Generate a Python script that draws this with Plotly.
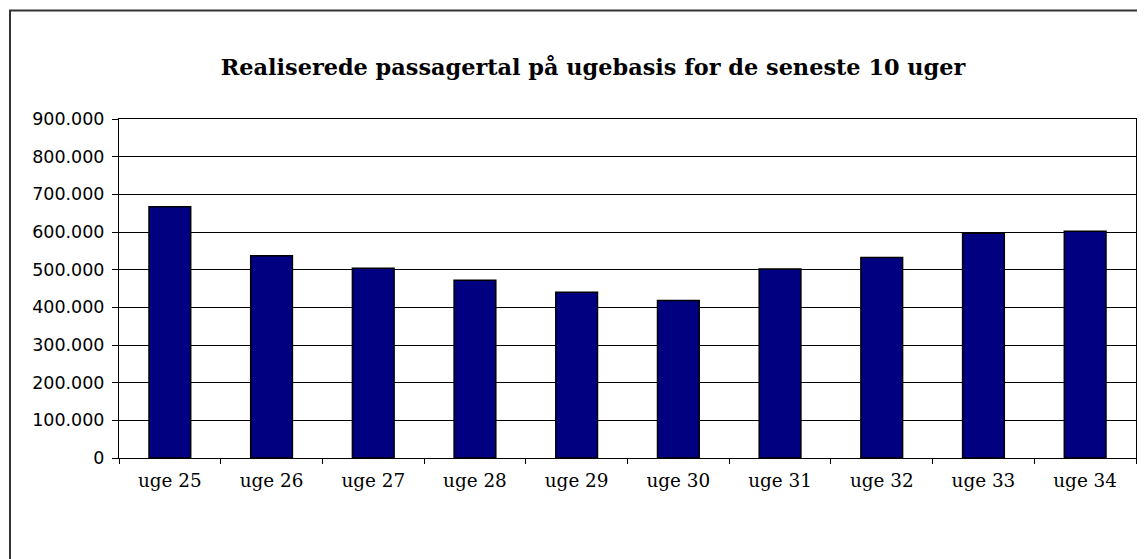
import plotly.graph_objects as go

weeks = ["uge 25", "uge 26", "uge 27", "uge 28", "uge 29", "uge 30", "uge 31", "uge 32", "uge 33", "uge 34"]
passengers = [667000, 537000, 504000, 472000, 440000, 418000, 502000, 532000, 597000, 602000]
y_ticks = [0, 100000, 200000, 300000, 400000, 500000, 600000, 700000, 800000, 900000]
title_text = "Realiserede passagertal på ugebasis for de seneste 10 uger"

W, H = 1145, 559
# page is offset by the 8px body margin
ml, mt = 111, 111
mr, mb = W - 1128, H - 450
pw, ph = W - ml - mr, H - mt - mb

fig = go.Figure(go.Bar(
    x=weeks, y=passengers,
    marker=dict(color="#000080", line=dict(color="#000000", width=1.5)),
    hoverinfo="x+y",
))

def px_to_paper_x(px):
    return (px - ml) / pw

def px_to_paper_y(py):
    return (H - mb - py) / ph

fig.update_layout(
    width=W, height=H,
    margin=dict(l=ml, r=mr, t=mt, b=mb, pad=0),
    paper_bgcolor="white", plot_bgcolor="white",
    separators=",.",
    bargap=0.59,
    showlegend=False,
    title=dict(
        text="<b>" + title_text + "</b>",
        font=dict(family="DejaVu Serif", size=22.4, color="#000000"),
        x=px_to_paper_x(585), xref="paper", xanchor="center",
        y=1 - 59 / H, yref="container", yanchor="middle",
    ),
    xaxis=dict(
        type="category",
        showline=True, linecolor="#000000", linewidth=1, mirror=True,
        ticks="outside", ticklen=5, tickcolor="#000000", tickwidth=1,
        tickson="boundaries",
        showgrid=False,
        tickfont=dict(family="DejaVu Serif", size=18.4, color="#000000"),
        ticklabelstandoff=6,
    ),
    yaxis=dict(
        range=[0, 900000],
        tickvals=y_ticks,
        tickformat=",d",
        showline=True, linecolor="#000000", linewidth=1, mirror=True,
        ticks="outside", ticklen=6, tickcolor="#000000", tickwidth=1,
        showgrid=True, gridcolor="#000000", gridwidth=1,
        zeroline=False,
        tickfont=dict(family="DejaVu Sans", size=17.5, color="#000000"),
        ticklabelstandoff=4,
    ),
    shapes=[dict(
        type="rect", xref="paper", yref="paper",
        x0=px_to_paper_x(2), x1=px_to_paper_x(W + 40),
        y0=px_to_paper_y(H + 40), y1=px_to_paper_y(2.5),
        line=dict(color="#333333", width=2), fillcolor="rgba(0,0,0,0)",
        layer="below",
    )],
)

fig.write_html("out.html")
